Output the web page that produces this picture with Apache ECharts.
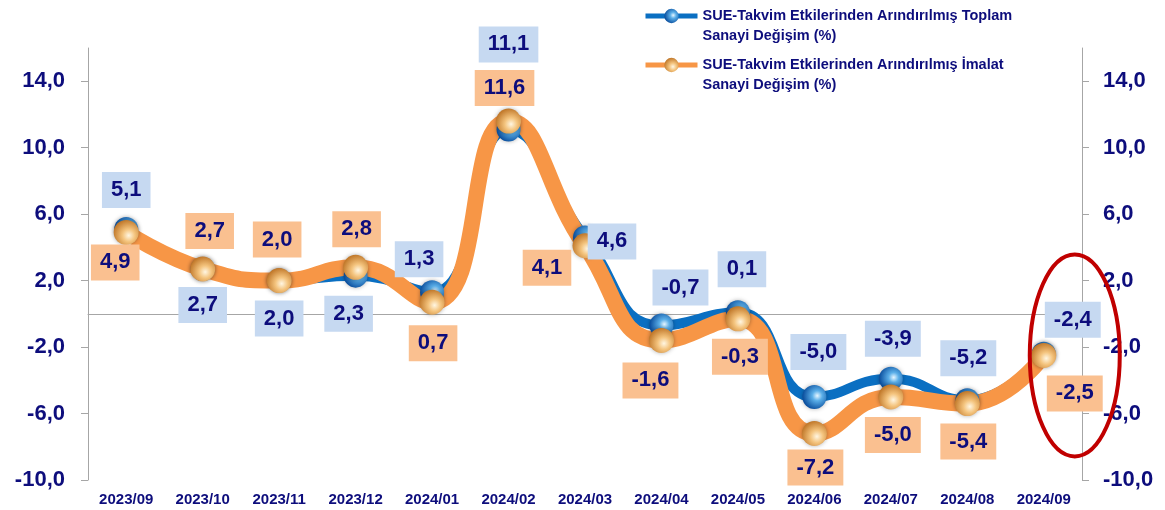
<!DOCTYPE html>
<html>
<head>
<meta charset="utf-8">
<script src="https://cdn.jsdelivr.net/npm/echarts@6/dist/echarts.min.js"></script>
<style>
  html, body { margin: 0; padding: 0; background: #fff; }
  #chart { width: 1165px; height: 510px; }
</style>
</head>
<body>
<div id="chart"></div>
<script>
// aylar
var categories = ['2023/09', '2023/10', '2023/11', '2023/12', '2024/01', '2024/02', '2024/03',
	'2024/04', '2024/05', '2024/06', '2024/07', '2024/08', '2024/09'];
var toplamValues = [5.1, 2.7, 2.0, 2.3, 1.3, 11.1, 4.6, -0.7, 0.1, -5.0, -3.9, -5.2, -2.4];
var imalatValues = [4.9, 2.7, 2.0, 2.8, 0.7, 11.6, 4.1, -1.6, -0.3, -7.2, -5.0, -5.4, -2.5];
var yTicks = [-10, -6, -2, 2, 6, 10, 14];

var toplamName = 'SUE-Takvim Etkilerinden Arındırılmış Toplam Sanayi Değişim (%)';
var imalatName = 'SUE-Takvim Etkilerinden Arındırılmış İmalat Sanayi Değişim (%)';

// etiket kaydırmaları (nokta merkezine göre)
var toplamLabelOffsets = [[0, -39], [0, 36], [0, 38], [-7, 38], [-13, -33], [0, -85], [27, 4],
	[19, -38], [4, -43], [4, -45], [2, -40], [1, -42], [29, -34]];
var imalatLabelOffsets = [[-11, 30], [7, -38], [-2, -41], [1, -38], [1, 41], [-4, -33], [-38, 22],
	[-11, 40], [2, 38], [1, 34], [2, 38], [1, 38], [31, 38]];

var navy = '#0d0d7c';

function fmt(v) {
	return v.toFixed(1).replace('.', ',');
}

function buildData(values, offsets) {
	var t = [];
	for (var i = 0; i < values.length; i++) {
		t.push({
			value: values[i],
			label: { offset: offsets[i] }
		});
	}
	return t;
}

function labelStyle(bg) {
	return {
		show: true,
		position: 'inside',
		formatter: function (p) { return fmt(p.value); },
		color: navy,
		fontFamily: 'Liberation Sans, Arial, sans-serif',
		fontWeight: 'bold',
		fontSize: 22,
		lineHeight: 22,
		backgroundColor: bg,
		padding: [7, 9]
	};
}

var blueSphere = new echarts.graphic.RadialGradient(0.62, 0.45, 0.6, [
	{ offset: 0, color: '#e6f6ff' },
	{ offset: 0.35, color: '#5aaee8' },
	{ offset: 1, color: '#0b4f9e' }
]);
var orangeSphere = new echarts.graphic.RadialGradient(0.6, 0.62, 0.62, [
	{ offset: 0, color: '#fff6e2' },
	{ offset: 0.4, color: '#f4c47e' },
	{ offset: 1, color: '#c27a2c' }
]);

var legendText = {
	color: navy,
	fontFamily: 'Liberation Sans, Arial, sans-serif',
	fontWeight: 'bold',
	fontSize: 14.5,
	lineHeight: 20
};

// boş ilk satır: simge ilk metin satırıyla hizalansın
function legendFmt(name) {
	return '\n' + name.replace(' Sanayi', '\nSanayi');
}

var myChart = echarts.init(document.getElementById('chart'));
var option = {
	backgroundColor: '#fff',
	animation: false,
	grid: { left: 88, right: 83, top: 48, bottom: 30 },
	legend: [{
		data: [toplamName],
		left: 643, top: -14,
		padding: 0,
		itemWidth: 52, itemHeight: 18,
		lineStyle: { width: 5 },
		textStyle: legendText,
		formatter: legendFmt
	}, {
		data: [imalatName],
		left: 643, top: 35,
		padding: 0,
		itemWidth: 52, itemHeight: 18,
		lineStyle: { width: 5 },
		textStyle: legendText,
		formatter: legendFmt
	}],
	xAxis: [{
		type: 'category',
		data: categories,
		axisLine: { onZero: true, lineStyle: { color: '#a6a6a6', width: 1 } },
		axisTick: { inside: true, length: 5, lineStyle: { color: '#a6a6a6' } },
		axisLabel: { show: false }
	}, {
		type: 'category',
		data: categories,
		position: 'bottom',
		axisLine: { show: false, onZero: false },
		axisTick: { show: false },
		axisLabel: {
			margin: 12,
			color: navy,
			fontFamily: 'Liberation Sans, Arial, sans-serif',
			fontWeight: 'bold',
			fontSize: 15
		}
	}],
	yAxis: [{
		type: 'value',
		position: 'left',
		min: -10, max: 16,
		splitLine: { show: false },
		axisLine: { show: true, lineStyle: { color: '#a6a6a6' } },
		axisTick: { show: true, length: 7, customValues: yTicks, lineStyle: { color: '#a6a6a6' } },
		axisLabel: {
			customValues: yTicks,
			margin: 23,
			formatter: fmt,
			color: navy,
			fontFamily: 'Liberation Sans, Arial, sans-serif',
			fontWeight: 'bold',
			fontSize: 22
		}
	}, {
		type: 'value',
		position: 'right',
		min: -10, max: 16,
		splitLine: { show: false },
		axisLine: { show: true, lineStyle: { color: '#a6a6a6' } },
		axisTick: { show: true, length: 7, customValues: yTicks, lineStyle: { color: '#a6a6a6' } },
		axisLabel: {
			customValues: yTicks,
			margin: 21,
			formatter: fmt,
			color: navy,
			fontFamily: 'Liberation Sans, Arial, sans-serif',
			fontWeight: 'bold',
			fontSize: 22
		}
	}],
	series: [{
		name: toplamName,
		type: 'line',
		xAxisIndex: 0,
		yAxisIndex: 0,
		smooth: 0.5,
		symbol: 'circle',
		symbolSize: 24,
		lineStyle: { color: '#0a6fc2', width: 10 },
		itemStyle: { color: blueSphere, shadowBlur: 4, shadowColor: 'rgba(0,0,0,0.3)' },
		label: labelStyle('#c6d9f1'),
		data: buildData(toplamValues, toplamLabelOffsets)
	}, {
		name: imalatName,
		type: 'line',
		xAxisIndex: 0,
		yAxisIndex: 0,
		smooth: 0.5,
		symbol: 'circle',
		symbolSize: 25,
		lineStyle: { color: '#f79646', width: 16 },
		itemStyle: { color: orangeSphere, shadowBlur: 4, shadowColor: 'rgba(0,0,0,0.3)' },
		label: labelStyle('#fac090'),
		data: buildData(imalatValues, imalatLabelOffsets)
	}]
};
myChart.setOption(option);

// son ayı çevreleyen kırmızı elips
var c = myChart.convertToPixel({ xAxisIndex: 0, yAxisIndex: 0 }, [categories.length - 1, -2.5]);
myChart.setOption({
	graphic: [{
		type: 'ellipse',
		silent: true,
		z: 100,
		shape: { cx: c[0] + 31, cy: c[1], rx: 45, ry: 101 },
		style: { fill: 'none', stroke: '#c00000', lineWidth: 4 }
	}]
});

window.addEventListener('resize', function () {
	myChart.resize();
});
</script>
</body>
</html>
